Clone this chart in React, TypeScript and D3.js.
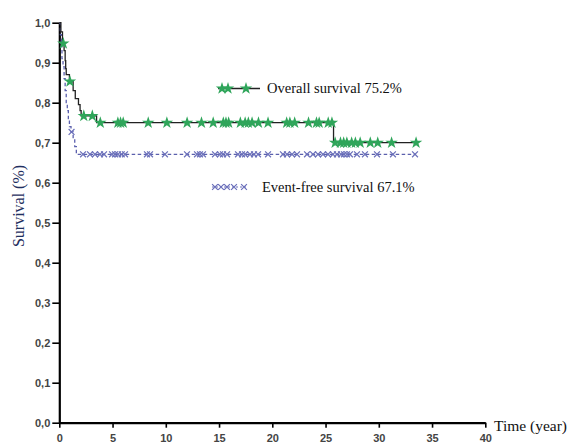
import { useEffect, useRef } from "react";
import * as d3 from "d3";

// Overall survival steps (time in years, survival)
const osTimes = [0, 0.15, 0.3, 0.45, 0.55, 0.6, 0.65, 0.95, 1.3, 1.5, 1.8, 1.95, 2.05, 3.5, 25.75, 33.5];
const osSurv = [1.0, 0.977, 0.948, 0.93, 0.905, 0.885, 0.87, 0.853, 0.83, 0.81, 0.795, 0.78, 0.767, 0.75, 0.7, 0.7];
const osCensored = [
  0.38, 1.0, 2.3, 3.1, 3.85, 5.5, 5.75, 6.0, 8.35, 10.1, 12.0, 13.35, 14.45, 15.4, 15.65, 15.9,
  17.0, 17.45, 17.75, 18.1, 18.7, 19.6, 21.35, 21.65, 22.1, 23.4, 24.15, 24.4, 25.25, 25.6,
  25.9, 26.4, 26.7, 27.0, 27.45, 27.8, 28.25, 29.2, 29.9, 31.2, 33.5,
];

// Event-free survival steps
const efsTimes = [0, 0.1, 0.2, 0.25, 0.35, 0.45, 0.55, 0.65, 0.75, 0.85, 0.95, 1.1, 1.3, 1.45, 1.6, 33.5];
const efsSurv = [1.0, 0.97, 0.94, 0.91, 0.89, 0.86, 0.83, 0.8, 0.78, 0.76, 0.74, 0.727, 0.71, 0.69, 0.671, 0.671];
const efsCensored = [
  1.15, 2.23, 2.88, 3.35, 3.82, 4.2, 4.95, 5.23, 5.51, 5.86, 6.17, 8.23, 8.52, 9.92, 11.99, 12.93,
  13.21, 13.49, 14.62, 15.09, 15.37, 15.75, 16.78, 17.16, 17.44, 17.91, 18.28, 18.66, 19.6, 21.0,
  21.38, 21.85, 22.32, 23.26, 23.82, 24.29, 24.76, 25.23, 25.7, 26.07, 26.45, 26.73, 27.01, 27.29,
  27.95, 28.7, 29.83, 31.33, 33.4,
];

const xTicks = [0, 5, 10, 15, 20, 25, 30, 35, 40];
const yTicks = [0, 0.1, 0.2, 0.3, 0.4, 0.5, 0.6, 0.7, 0.8, 0.9, 1.0];

const osLabel = "Overall survival 75.2%";
const efsLabel = "Event-free survival 67.1%";

const serif = "'Liberation Serif', 'Times New Roman', serif";
const sans = "'Liberation Sans', Arial, sans-serif";

function survAt(times: number[], surv: number[], t: number) {
  let s = surv[0];
  for (let i = 0; i < times.length; i++) {
    if (times[i] <= t) s = surv[i];
  }
  return s;
}

const App = () => {
  const ref = useRef<SVGSVGElement>(null);

  useEffect(() => {
    const svg = d3.select(ref.current);
    svg.selectAll("*").remove();

    const x = d3.scaleLinear().domain([0, 40]).range([59.3, 485.3]);
    const y = d3.scaleLinear().domain([0, 1]).range([422.7, 22.7]);

    const fmt = (d: number) => d3.format(".1f")(d).replace(".", ",");

    // y axis
    const gy = svg
      .append("g")
      .attr("transform", `translate(${x(0)},0)`)
      .call(d3.axisLeft(y).tickValues(yTicks).tickSize(7).tickSizeOuter(0).tickFormat((d) => fmt(+d)));
    gy.select(".domain").attr("stroke-width", 2.2);
    gy.selectAll(".tick line").attr("stroke-width", 1.6);
    gy.selectAll(".tick text")
      .attr("font-family", sans)
      .attr("font-size", 11)
      .attr("font-weight", "bold")
      .attr("fill", "#444")
      .attr("x", -9);

    // x axis
    const gx = svg
      .append("g")
      .attr("transform", `translate(0,${y(0)})`)
      .call(d3.axisBottom(x).tickValues(xTicks).tickSize(5).tickSizeOuter(0));
    gx.select(".domain").attr("stroke-width", 2.2);
    gx.selectAll(".tick line").attr("stroke-width", 1.6);
    gx.selectAll(".tick text")
      .attr("font-family", sans)
      .attr("font-size", 11)
      .attr("font-weight", "bold")
      .attr("fill", "#444")
      .attr("y", 12);

    const stepLine = d3
      .line<[number, number]>()
      .x((d) => x(d[0]))
      .y((d) => y(d[1]))
      .curve(d3.curveStepAfter);

    // EFS
    svg
      .append("path")
      .attr("d", stepLine(efsTimes.map((t, i) => [t, efsSurv[i]]))!)
      .attr("fill", "none")
      .attr("stroke", "#5b60ad")
      .attr("stroke-width", 1.3)
      .attr("stroke-dasharray", "3.5,2.5");

    const xSym = d3.symbol().type(d3.symbolX).size(24);
    svg
      .append("g")
      .selectAll("path")
      .data(efsCensored)
      .enter()
      .append("path")
      .attr("d", xSym()!)
      .attr("transform", (t) => `translate(${x(t)},${y(survAt(efsTimes, efsSurv, t))})`)
      .attr("fill", "none")
      .attr("stroke", "#6a6fba")
      .attr("stroke-width", 1.2);

    // OS
    svg
      .append("path")
      .attr("d", stepLine(osTimes.map((t, i) => [t, osSurv[i]]))!)
      .attr("fill", "none")
      .attr("stroke", "#222")
      .attr("stroke-width", 1.3);

    const star = d3.symbol().type(d3.symbolStar).size(48);
    svg
      .append("g")
      .selectAll("path")
      .data(osCensored)
      .enter()
      .append("path")
      .attr("d", star()!)
      .attr("transform", (t) => `translate(${x(t)},${y(survAt(osTimes, osSurv, t))})`)
      .attr("fill", "#2fa55a");

    // legend OS
    const lg = svg.append("g");
    lg.append("line")
      .attr("x1", 218).attr("x2", 260).attr("y1", 88.5).attr("y2", 88.5)
      .attr("stroke", "#222").attr("stroke-width", 1.5);
    lg.selectAll(".ls")
      .data([222, 228, 246])
      .enter()
      .append("path")
      .attr("d", star()!)
      .attr("transform", (d) => `translate(${d},88.5)`)
      .attr("fill", "#2fa55a");
    lg.append("text")
      .attr("x", 267).attr("y", 93)
      .attr("font-family", serif)
      .attr("font-size", 14.5)
      .attr("fill", "#111")
      .text(osLabel);

    // legend EFS
    lg.append("line")
      .attr("x1", 212).attr("x2", 247).attr("y1", 187).attr("y2", 187)
      .attr("stroke", "#6a6fba").attr("stroke-width", 1).attr("stroke-dasharray", "2,2");
    lg.selectAll(".lx")
      .data([215, 221, 227, 234, 244])
      .enter()
      .append("path")
      .attr("d", xSym()!)
      .attr("transform", (d) => `translate(${d},187)`)
      .attr("fill", "none")
      .attr("stroke", "#6a6fba")
      .attr("stroke-width", 1.2);
    lg.append("text")
      .attr("x", 262).attr("y", 192)
      .attr("font-family", serif)
      .attr("font-size", 14.5)
      .attr("fill", "#111")
      .text(efsLabel);

    // axis titles
    svg.append("text")
      .attr("x", 494).attr("y", 431)
      .attr("font-family", serif)
      .attr("font-size", 15.5)
      .attr("fill", "#111")
      .text("Time (year)");
    svg.append("text")
      .attr("transform", "translate(24,206) rotate(-90)")
      .attr("text-anchor", "middle")
      .attr("font-family", serif)
      .attr("font-size", 16)
      .attr("fill", "#1f3060")
      .text("Survival (%)");
  }, []);

  return (
    <svg
      ref={ref}
      width={567}
      height={444}
      style={{ position: "absolute", left: 0, top: 0, background: "#fff" }}
    />
  );
};

export default App;
